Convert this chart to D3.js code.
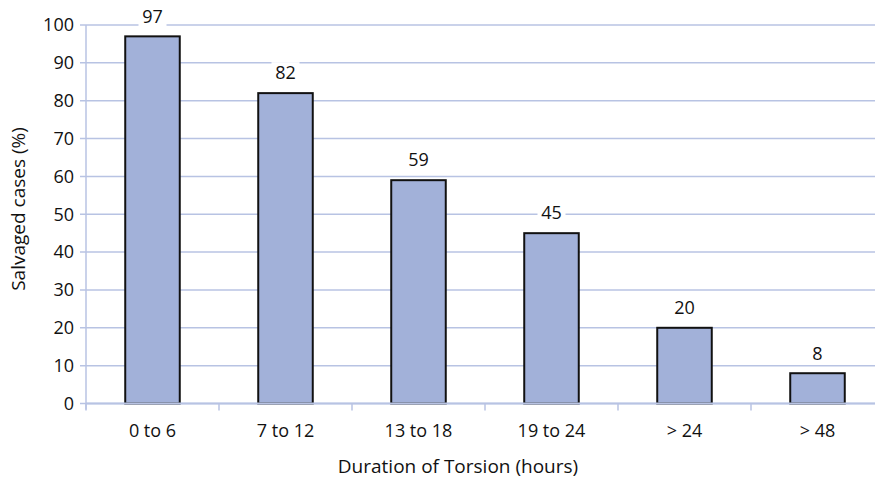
<!DOCTYPE html>
<html>
<head>
<meta charset="utf-8">
<script src="https://cdn.jsdelivr.net/npm/d3@7"></script>
<style>
  html, body { margin: 0; padding: 0; background: #fff; }
  svg text { font-family: "Open Sans", "Noto Sans", sans-serif; fill: #111; }
</style>
</head>
<body>
<svg id="chart" width="875" height="479"></svg>
<script>
const categories = ["0 to 6", "7 to 12", "13 to 18", "19 to 24", "> 24", "> 48"];
const salvaged = [97, 82, 59, 45, 20, 8];
const yTicks = [0, 10, 20, 30, 40, 50, 60, 70, 80, 90, 100];

const svg = d3.select("#chart");
const left = 86, bandW = 133;
const fs = 18;
const x = d3.scaleBand().domain(categories)
  .range([left, left + bandW * categories.length])
  .paddingInner(0.59).paddingOuter(0.295);
const y = d3.scaleLinear().domain([0, 100]).range([403.5, 25]);

const gridColor = "#b8c3e3";

// horizontal gridlines with short tick stubs
svg.append("g").selectAll("line").data(yTicks).join("line")
  .attr("x1", left - 6).attr("x2", 875)
  .attr("y1", d => y(d)).attr("y2", d => y(d))
  .attr("stroke", gridColor).attr("stroke-width", 1.5);

// y axis line
svg.append("line").attr("x1", left).attr("x2", left)
  .attr("y1", y(100)).attr("y2", y(0) + 6)
  .attr("stroke", gridColor).attr("stroke-width", 1.5);

// y tick labels
svg.append("g").selectAll("text").data(yTicks).join("text")
  .attr("x", left - 12).attr("y", d => y(d))
  .attr("dy", "0.35em").attr("text-anchor", "end")
  .attr("font-size", fs).text(d => d);

// bars
svg.append("g").selectAll("rect").data(salvaged).join("rect")
  .attr("x", (d, i) => x(categories[i]))
  .attr("width", x.bandwidth())
  .attr("y", d => y(d))
  .attr("height", d => y(0) - y(d))
  .attr("fill", "#a2b1d9").attr("stroke", "#111").attr("stroke-width", 2);

// x axis line and category ticks
svg.append("line").attr("x1", left).attr("x2", 875)
  .attr("y1", y(0)).attr("y2", y(0))
  .attr("stroke", gridColor).attr("stroke-width", 2);
svg.append("g").selectAll("line").data(d3.range(categories.length)).join("line")
  .attr("x1", i => left + i * bandW).attr("x2", i => left + i * bandW)
  .attr("y1", y(0)).attr("y2", y(0) + 7)
  .attr("stroke", gridColor).attr("stroke-width", 1.5);

// category labels
svg.append("g").selectAll("text").data(categories).join("text")
  .attr("x", d => x(d) + x.bandwidth() / 2).attr("y", 437)
  .attr("text-anchor", "middle").attr("font-size", fs).text(d => d);

// value labels on white backing
const vl = svg.append("g").selectAll("g").data(salvaged).join("g")
  .attr("transform", (d, i) => `translate(${x(categories[i]) + x.bandwidth() / 2},${y(d) - 20})`);
vl.append("rect").attr("x", -14).attr("y", -11).attr("width", 28).attr("height", 22).attr("fill", "#fff");
vl.append("text").attr("text-anchor", "middle").attr("dy", "0.35em")
  .attr("font-size", fs).text(d => d);

// axis titles
svg.append("text").attr("x", 458).attr("y", 473).attr("text-anchor", "middle")
  .attr("font-size", 19).text("Duration of Torsion (hours)");
svg.append("text").attr("transform", "translate(25,209) rotate(-90)")
  .attr("text-anchor", "middle").attr("font-size", 19).text("Salvaged cases (%)");
</script>
</body>
</html>
